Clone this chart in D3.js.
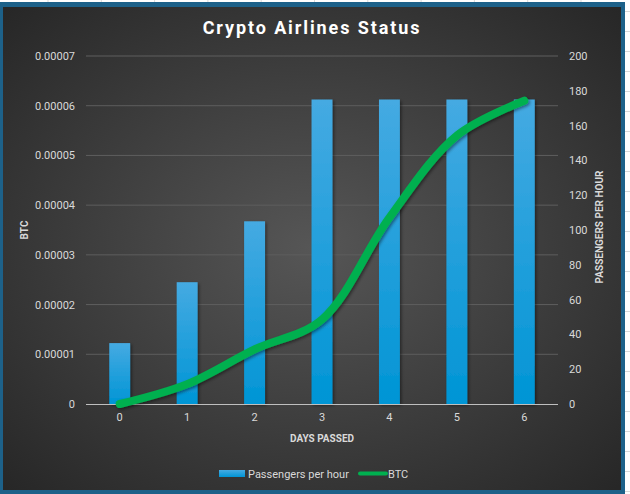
<!DOCTYPE html>
<html>
<head>
<meta charset="utf-8">
<script src="https://cdn.jsdelivr.net/npm/d3@7"></script>
<style>
  html, body { margin: 0; padding: 0; background: #fff; }
  svg { display: block; }
</style>
</head>
<body>
<svg id="chart"></svg>
<script>
// chart data
const days = ["0", "1", "2", "3", "4", "5", "6"];
const passengers = [35, 70, 105, 175, 175, 175, 175];
const btc = [0, 0.000004, 0.000011, 0.000017, 0.0000375, 0.000054, 0.000061];
const btcTicks = [0, 0.00001, 0.00002, 0.00003, 0.00004, 0.00005, 0.00006, 0.00007];
const paxTicks = [0, 20, 40, 60, 80, 100, 120, 140, 160, 180, 200];

const W = 630, H = 494;
const margin = { top: 56, right: 72, bottom: 90, left: 86 };

const svg = d3.select('#chart').attr('width', W).attr('height', H);
const defs = svg.append('defs');

// background gradient
const bg = defs.append('radialGradient').attr('id', 'bg')
    .attr('cx', '50%').attr('cy', '50%').attr('r', '70%');
bg.append('stop').attr('offset', '0%').attr('stop-color', '#565656');
bg.append('stop').attr('offset', '100%').attr('stop-color', '#272727');

const barGrad = defs.append('linearGradient').attr('id', 'barGrad')
    .attr('x1', 0).attr('y1', 0).attr('x2', 0).attr('y2', 1);
barGrad.append('stop').attr('offset', '0%').attr('stop-color', '#45aae2');
barGrad.append('stop').attr('offset', '100%').attr('stop-color', '#0095d5');

const shadow = defs.append('filter').attr('id', 'shadow')
    .attr('x', '-20%').attr('y', '-20%').attr('width', '140%').attr('height', '140%');
shadow.append('feDropShadow').attr('dx', 1.5).attr('dy', 1.5).attr('stdDeviation', 1.5)
    .attr('flood-color', '#000').attr('flood-opacity', 0.45);

// excel sheet lines behind the chart object
const sheet = svg.append('g').attr('stroke', '#d9d9d9').attr('stroke-width', 1);
d3.range(48, 630, 53.3).forEach(x => {
    sheet.append('line').attr('x1', x).attr('x2', x).attr('y1', 0).attr('y2', 3);
});
d3.range(11.5, 494, 20).forEach(y => {
    sheet.append('line').attr('x1', 625).attr('x2', 630).attr('y1', y).attr('y2', y);
});

// chart frame
svg.append('rect')
    .attr('x', 0).attr('y', 2).attr('width', 625).attr('height', 492)
    .attr('fill', '#1d6189');
svg.append('rect')
    .attr('x', 3).attr('y', 7).attr('width', 618).attr('height', 483)
    .attr('fill', 'url(#bg)');

const x = d3.scaleBand()
    .domain(days)
    .range([margin.left, W - margin.right]);

const yL = d3.scaleLinear().domain([0, 0.00007]).range([H - margin.bottom, margin.top]);
const yR = d3.scaleLinear().domain([0, 200]).range([H - margin.bottom, margin.top]);

// gridlines
svg.append('g').selectAll('line').data(btcTicks.slice(1)).enter()
    .append('line')
    .attr('x1', margin.left).attr('x2', W - margin.right)
    .attr('y1', d => yL(d)).attr('y2', d => yL(d))
    .attr('stroke', '#5e5e5e').attr('stroke-width', 1);

// bars
const barW = x.bandwidth() * 0.31;
svg.append('g').selectAll('rect').data(passengers).enter()
    .append('rect')
    .attr('x', (d, i) => x(days[i]) + x.bandwidth() / 2 - barW / 2)
    .attr('y', d => yR(d))
    .attr('width', barW)
    .attr('height', d => yR(0) - yR(d))
    .attr('fill', 'url(#barGrad)')
    .attr('filter', 'url(#shadow)');

// baseline
svg.append('line')
    .attr('x1', margin.left).attr('x2', W - margin.right)
    .attr('y1', yL(0) + 0.5).attr('y2', yL(0) + 0.5)
    .attr('stroke', '#bfbfbf').attr('stroke-width', 1);

// btc line
const line = d3.line()
    .x((d, i) => x(days[i]) + x.bandwidth() / 2)
    .y(d => yL(d))
    .curve(d3.curveCatmullRom.alpha(0.5));

svg.append('path')
    .datum(btc)
    .attr('d', line)
    .attr('fill', 'none')
    .attr('stroke', '#00b050')
    .attr('stroke-width', 8)
    .attr('stroke-linecap', 'round')
    .attr('stroke-linejoin', 'round')
    .attr('filter', 'url(#shadow)');

const font = 'Roboto, "Liberation Sans", Arial, sans-serif';
const tickColor = '#d9d9d9';

// left axis
const axL = svg.append('g')
    .attr('transform', `translate(${margin.left - 11},0)`)
    .call(d3.axisLeft(yL).tickValues(btcTicks).tickSize(0).tickPadding(0)
        .tickFormat(d => d === 0 ? '0' : d.toFixed(5)));
axL.select('.domain').remove();
axL.selectAll('text').attr('fill', tickColor).style('font', `11px ${font}`);

// right axis
const axR = svg.append('g')
    .attr('transform', `translate(${W - margin.right + 11},0)`)
    .call(d3.axisRight(yR).tickValues(paxTicks).tickSize(0).tickPadding(0));
axR.select('.domain').remove();
axR.selectAll('text').attr('fill', tickColor).style('font', `11px ${font}`);

// bottom axis
const axB = svg.append('g')
    .attr('transform', `translate(0,${H - margin.bottom + 9})`)
    .call(d3.axisBottom(x).tickSize(0).tickPadding(0));
axB.select('.domain').remove();
axB.selectAll('text').attr('fill', tickColor).style('font', `11px ${font}`);

// titles
svg.append('text')
    .attr('x', 312).attr('y', 34)
    .attr('text-anchor', 'middle')
    .attr('fill', '#fff')
    .attr('letter-spacing', '1.9px')
    .style('font', `bold 18px ${font}`)
    .text('Crypto Airlines Status');

svg.append('text')
    .attr('transform', 'translate(28,230) rotate(-90)')
    .attr('text-anchor', 'middle')
    .attr('fill', tickColor)
    .style('font', `bold 10px ${font}`)
    .text('BTC');

svg.append('text')
    .attr('transform', 'translate(603,227) rotate(-90)')
    .attr('text-anchor', 'middle')
    .attr('fill', tickColor)
    .style('font', `bold 10px ${font}`)
    .text('PASSENGERS PER HOUR');

svg.append('text')
    .attr('x', 322).attr('y', 442)
    .attr('text-anchor', 'middle')
    .attr('fill', tickColor)
    .style('font', `bold 10px ${font}`)
    .text('DAYS PASSED');

// legend
const lg = svg.append('g');
lg.append('rect')
    .attr('x', 219).attr('y', 470).attr('width', 26).attr('height', 7)
    .attr('fill', 'url(#barGrad)');
lg.append('text')
    .attr('x', 248).attr('y', 478)
    .attr('fill', tickColor)
    .style('font', `11px ${font}`)
    .text('Passengers per hour');
lg.append('line')
    .attr('x1', 360).attr('x2', 386).attr('y1', 473.5).attr('y2', 473.5)
    .attr('stroke', '#00b050').attr('stroke-width', 4).attr('stroke-linecap', 'round');
lg.append('text')
    .attr('x', 388).attr('y', 478)
    .attr('fill', tickColor)
    .style('font', `11px ${font}`)
    .text('BTC');
</script>
</body>
</html>
